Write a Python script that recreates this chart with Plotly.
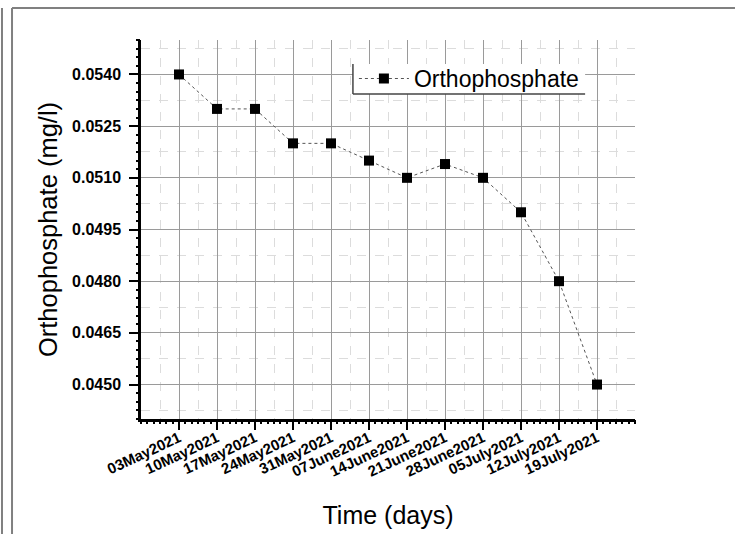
import plotly.graph_objects as go

dates = ["03May2021", "10May2021", "17May2021", "24May2021", "31May2021", "07June2021",
         "14June2021", "21June2021", "28June2021", "05July2021", "12July2021", "19July2021"]
ortho = [0.0540, 0.0530, 0.0530, 0.0520, 0.0520, 0.0515,
         0.0510, 0.0514, 0.0510, 0.0500, 0.0480, 0.0450]
yticks = [0.0450, 0.0465, 0.0480, 0.0495, 0.0510, 0.0525, 0.0540]
xpos = list(range(1, len(dates) + 1))

FONT = "Liberation Sans, Arial, sans-serif"

fig = go.Figure()
fig.add_trace(go.Scatter(
    x=xpos, y=ortho, mode="lines+markers", name="Orthophosphate",
    line=dict(color="#555555", width=1, dash="dot"),
    marker=dict(symbol="square", size=10, color="black"),
    xaxis="x", yaxis="y",
))
# invisible trace to carry the small minor-tick axes
fig.add_trace(go.Scatter(x=[0, 13], y=[0.0440, 0.0550], mode="markers",
                         marker=dict(opacity=0), showlegend=False, hoverinfo="skip",
                         xaxis="x2", yaxis="y2"))

fig.update_layout(
    width=742, height=534,
    margin=dict(l=141, r=107, t=40, b=115),
    paper_bgcolor="white", plot_bgcolor="white",
    font=dict(family=FONT, color="black"),
    showlegend=True,
    legend=dict(x=0.431, y=0.955, xanchor="left", yanchor="top",
                bgcolor="rgba(0,0,0,0)", borderwidth=0,
                font=dict(size=23, family=FONT), itemwidth=50,
                tracegroupgap=0),
    xaxis=dict(
        range=[0, 13], tickvals=xpos, ticktext=dates, tickangle=-25,
        tickfont=dict(size=15, family=FONT, weight="bold"),
        ticks="outside", ticklen=8, tickwidth=2, tickcolor="black",
        ticklabelstandoff=-6, automargin=False,
        showline=True, linecolor="black", linewidth=2.5, mirror=False,
        showgrid=True, gridcolor="#9a9a9a", gridwidth=1,
        minor=dict(dtick=0.5, tick0=0, showgrid=True, gridcolor="#dcdcdc",
                   griddash="dash", gridwidth=1, ticks=""),
        zeroline=False,
        title=dict(text="Time (days)", font=dict(size=25, family=FONT), standoff=28),
    ),
    yaxis=dict(
        range=[0.0440, 0.0550], tickvals=yticks, tickformat=".4f",
        tickfont=dict(size=16, family=FONT, weight="bold"),
        ticks="outside", ticklen=9, tickwidth=2, tickcolor="black",
        ticklabelstandoff=5, automargin=False,
        showline=True, linecolor="black", linewidth=2.5, mirror=False,
        showgrid=True, gridcolor="#9a9a9a", gridwidth=1,
        minor=dict(dtick=0.00075, tick0=0.045, showgrid=True, gridcolor="#dcdcdc",
                   griddash="dash", gridwidth=1, ticks=""),
        zeroline=False,
        title=dict(text="Orthophosphate (mg/l)", font=dict(size=25.5, family=FONT), standoff=8),
    ),
    xaxis2=dict(range=[0, 13], overlaying="x", anchor="y2", side="bottom",
                showticklabels=False, showgrid=False, zeroline=False, showline=False,
                ticks="outside", ticklen=4, tickwidth=1.5, tickcolor="black",
                dtick=1/6, tick0=0),
    yaxis2=dict(range=[0.0440, 0.0550], overlaying="y", anchor="x2", side="left",
                showticklabels=False, showgrid=False, zeroline=False, showline=False,
                ticks="outside", ticklen=4, tickwidth=1.5, tickcolor="black",
                dtick=0.00025, tick0=0.045),
)

# legend box: white background with left and bottom edges
lx0, lx1, ly0, ly1 = 0.429, 0.899, 0.8575, 0.937
fig.add_shape(type="rect", xref="paper", yref="paper", x0=lx0, x1=lx1, y0=ly0, y1=ly1,
              fillcolor="white", line=dict(width=0), layer="above")
fig.add_shape(type="line", xref="paper", yref="paper", x0=lx0, x1=lx0, y0=ly0, y1=ly1,
              line=dict(color="#444444", width=1.5), layer="above")
fig.add_shape(type="line", xref="paper", yref="paper", x0=lx0, x1=lx1, y0=ly0, y1=ly0,
              line=dict(color="#444444", width=1.5), layer="above")

# outer page frame
for x in (-0.2814, -0.2611):
    fig.add_shape(type="line", xref="paper", yref="paper", x0=x, x1=x, y0=-0.31, y1=1.0844,
                  line=dict(color="#808080", width=2))
fig.add_shape(type="line", xref="paper", yref="paper", x0=-0.2611, x1=1.2024, y0=1.0844, y1=1.0844,
              line=dict(color="#808080", width=2))

fig.write_html("out.html")
